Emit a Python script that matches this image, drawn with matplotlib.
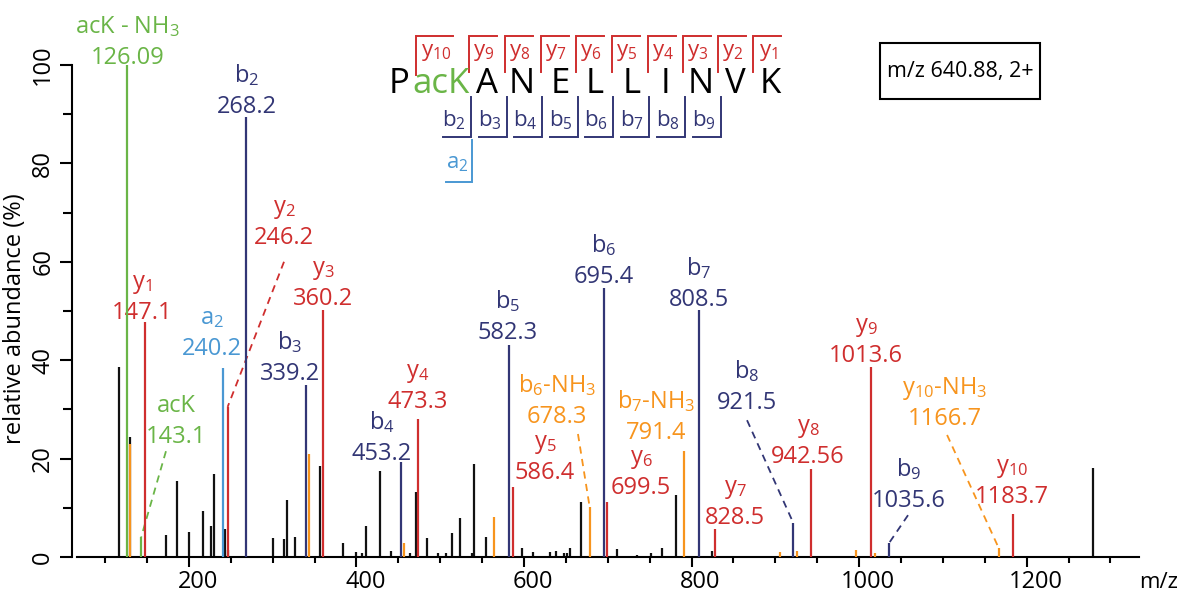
import matplotlib
matplotlib.use('Agg')
import matplotlib.pyplot as plt
from matplotlib.patches import Rectangle
from matplotlib.transforms import ScaledTranslation

plt.rcParams.update({
    'font.family': ['Open Sans', 'DejaVu Sans'],
    'mathtext.fontset': 'custom',
    'mathtext.rm': 'Open Sans',
    'mathtext.it': 'Open Sans',
    'mathtext.default': 'regular',
    'font.size': 17,
})

C_RED = '#CF2E2E'
C_NAVY = '#323675'
C_BLUE = '#4A98D3'
C_GREEN = '#6AB547'
C_ORANGE = '#F7941D'
C_BLACK = '#111111'
KIND_COLOR = {'y': C_RED, 'b': C_NAVY, 'a': C_BLUE, 'g': C_GREEN, 'o': C_ORANGE}

# --- annotated fragment ions ---
ion_names = ['acK - NH$_3$', 'acK', 'y$_1$', 'a$_2$', 'y$_2$', 'b$_2$', 'b$_3$', 'y$_3$',
             'b$_4$', 'y$_4$', 'b$_5$', 'y$_5$', 'b$_6$-NH$_3$', 'b$_6$', 'y$_6$',
             'b$_7$-NH$_3$', 'b$_7$', 'y$_7$', 'b$_8$', 'y$_8$', 'y$_9$', 'b$_9$',
             'y$_{10}$-NH$_3$', 'y$_{10}$']
ion_mz = [126.09, 143.1, 147.1, 240.2, 246.2, 268.2, 339.2, 360.2,
          453.2, 473.3, 582.3, 586.4, 678.3, 695.4, 699.5,
          791.4, 808.5, 828.5, 921.5, 942.56, 1013.6, 1035.6,
          1166.7, 1183.7]
ion_int = [100, 4.1, 47.8, 38.4, 30.5, 89.5, 35.0, 50.2,
           19.4, 28.0, 43.1, 14.3, 10.2, 54.6, 11.2,
           21.6, 50.2, 5.6, 6.9, 17.9, 38.6, 2.8,
           1.8, 8.7]
ion_kind = ['g', 'g', 'y', 'a', 'y', 'b', 'b', 'y',
            'b', 'y', 'b', 'y', 'o', 'b', 'y',
            'o', 'b', 'y', 'b', 'y', 'y', 'b',
            'o', 'y']

# --- unassigned peaks ---
black_mz = [116.9, 129.8, 172.6, 186.0, 199.7, 216.4, 226.3, 229.5, 243.0, 247.0,
            300.0, 313.5, 316.7, 327.0, 356.5, 383.5, 400.0, 407.0, 411.0, 427.7,
            440.8, 463.9, 470.7, 483.8, 497.7, 506.9, 514.0, 524.0, 537.5, 540.7,
            554.6, 597.6, 611.0, 631.0, 638.0, 647.7, 651.0, 655.0, 668.0, 711.4,
            734.5, 751.0, 765.0, 781.4, 824.8, 1279.6]
black_int = [38.7, 24.3, 4.5, 15.4, 5.0, 9.3, 6.2, 16.9, 5.6, 1.4,
             3.9, 3.7, 11.6, 4.1, 18.4, 2.8, 1.1, 0.8, 6.2, 17.5,
             1.3, 0.8, 13.3, 3.9, 0.8, 0.8, 4.8, 7.9, 0.8, 18.9,
             4.1, 1.9, 1.1, 1.1, 1.3, 0.8, 0.9, 1.9, 11.2, 1.6,
             0.4, 0.8, 1.9, 12.6, 1.2, 18.1]
orange_mz = [129.3, 343.3, 457.0, 564.0, 905.6, 925.5, 996.0, 1019.0]
orange_int = [23.0, 20.9, 2.8, 8.2, 1.1, 1.3, 1.4, 0.8]

# label anchor (centre x, baseline of m/z number) and leader start, in data units
lab_x = [126.7, 184.6, 144.0, 227.5, 313.5, 269.3, 320.6, 360.0,
         430.5, 473.4, 580.9, 625.0, 639.4, 695.5, 739.6,
         757.6, 808.9, 851.8, 866.2, 939.0, 1008.3, 1059.5,
         1102.5, 1182.5]
lab_y = [100.2, 23.2, 48.4, 41.1, 63.6, 90.2, 36.0, 51.2,
         19.7, 30.3, 44.3, 15.9, 27.2, 55.7, 12.8,
         24.0, 51.0, 6.7, 30.1, 19.1, 39.6, 10.2,
         26.8, 11.0]
leaders = {'acK': (172.6, 21.5), 'y$_2$': (313.5, 60.0), 'b$_6$-NH$_3$': (664.4, 25.0),
           'b$_8$': (866.2, 27.8), 'b$_9$': (1058.4, 8.5), 'y$_{10}$-NH$_3$': (1105.0, 24.8)}

# --- peptide sequence ---
seq_letters = ['P', 'acK', 'A', 'N', 'E', 'L', 'L', 'I', 'N', 'V', 'K']
y_series = ['y$_{10}$', 'y$_9$', 'y$_8$', 'y$_7$', 'y$_6$', 'y$_5$', 'y$_4$', 'y$_3$', 'y$_2$', 'y$_1$']
b_series = ['b$_2$', 'b$_3$', 'b$_4$', 'b$_5$', 'b$_6$', 'b$_7$', 'b$_8$', 'b$_9$']

W, H = 1177, 594
fig = plt.figure(figsize=(W / 100, H / 100), dpi=100)
ax = fig.add_axes([77 / W, (H - 557) / H, (1139 - 77) / W, 557 / H])

ax.vlines(black_mz, 0, black_int, color=C_BLACK, lw=1.6, zorder=2)
ax.vlines(orange_mz, 0, orange_int, color=C_ORANGE, lw=1.6, zorder=3)
for name, mz, h, k, lx, ly in zip(ion_names, ion_mz, ion_int, ion_kind, lab_x, lab_y):
    c = KIND_COLOR[k]
    ax.vlines(mz, 0, h, color=c, lw=1.6, zorder=4)
    ax.text(lx, ly, f'{mz}', color=c, ha='center', va='baseline', fontsize=17)
    ax.text(lx, ly + 6.3, name, color=c, ha='center', va='baseline', fontsize=17)
    if name in leaders:
        x0, y0 = leaders[name]
        ax.plot([x0, mz], [y0, h], color=c, lw=1.3, ls=(0, (4, 3)), zorder=4)

ax.set_xlim(66.4, 1334.1)
ax.set_ylim(0, 113.2)
for s in ['top', 'right']:
    ax.spines[s].set_visible(False)
ax.spines['left'].set_position(('outward', 3.6))
ax.spines['left'].set_bounds(0, 100)
ax.spines['left'].set_linewidth(1.5)
ax.spines['bottom'].set_linewidth(1.5)

ax.set_xticks([200, 400, 600, 800, 1000, 1200])
ax.set_xticks(range(100, 1301, 50), minor=True)
ax.set_yticks([0, 20, 40, 60, 80, 100])
ax.set_yticks([10, 30, 50, 70, 90], minor=True)
ax.tick_params(axis='x', which='major', length=7, width=1.5, pad=2.5, labelsize=17)
ax.tick_params(axis='x', which='minor', length=4.5, width=1.5)
ax.tick_params(axis='y', which='major', length=8.6, width=1.5, pad=3.5, labelsize=17, labelrotation=90)
ax.tick_params(axis='y', which='minor', length=6.5, width=1.5)
for lab in ax.get_yticklabels():
    lab.set_va('center')
shift = ScaledTranslation(0.09, 0, fig.dpi_scale_trans)
for lab in ax.get_xticklabels():
    lab.set_transform(lab.get_transform() + shift)
ax.set_ylabel('relative abundance (%)', fontsize=17)
ax.yaxis.set_label_coords(-0.047, 0.427)

# overlay in pixel coordinates for the sequence diagram and legend box
ov = fig.add_axes([0, 0, 1, 1])
ov.set_xlim(0, W)
ov.set_ylim(H, 0)
ov.axis('off')
ov.patch.set_alpha(0)

ov.text(1159, 588, 'm/z', ha='center', va='baseline', fontsize=16)

seq_x = [399, 441, 487, 522, 560, 595, 632, 665, 701, 735, 770]
for letter, x in zip(seq_letters, seq_x):
    ov.text(x, 93, letter, ha='center', va='baseline', fontsize=25,
            color=C_GREEN if letter == 'acK' else 'black')

y_left = [416, 469, 505, 541, 576, 612, 648, 683, 718, 753]
for i, (lab, x) in enumerate(zip(y_series, y_left)):
    w = 37 if i == 0 else 28
    bot = 75 if i == 0 else 72
    ov.plot([x, x, x + w], [bot, 36, 36], color=C_RED, lw=1.4, solid_joinstyle='miter')
    ov.text(x + (20 if i == 0 else 15), 56, lab, color=C_RED, ha='center', va='baseline', fontsize=16)

b_right = [471, 507, 542, 578, 613, 649, 685, 721]
for lab, x in zip(b_series, b_right):
    ov.plot([x, x, x - 28], [97, 137, 137], color=C_NAVY, lw=1.4, solid_joinstyle='miter')
    ov.text(x - 17, 126, lab, color=C_NAVY, ha='center', va='baseline', fontsize=16)

ov.plot([472, 472, 446], [140, 182, 182], color=C_BLUE, lw=1.4, solid_joinstyle='miter')
ov.text(457, 168, 'a$_2$', color=C_BLUE, ha='center', va='baseline', fontsize=16)

ov.add_patch(Rectangle((880, 43), 160, 56, fill=False, lw=1.5, ec='black'))
ov.text(960, 71, 'm/z 640.88, 2+', ha='center', va='center', fontsize=15.5)

fig.savefig('out.png', dpi=100)
